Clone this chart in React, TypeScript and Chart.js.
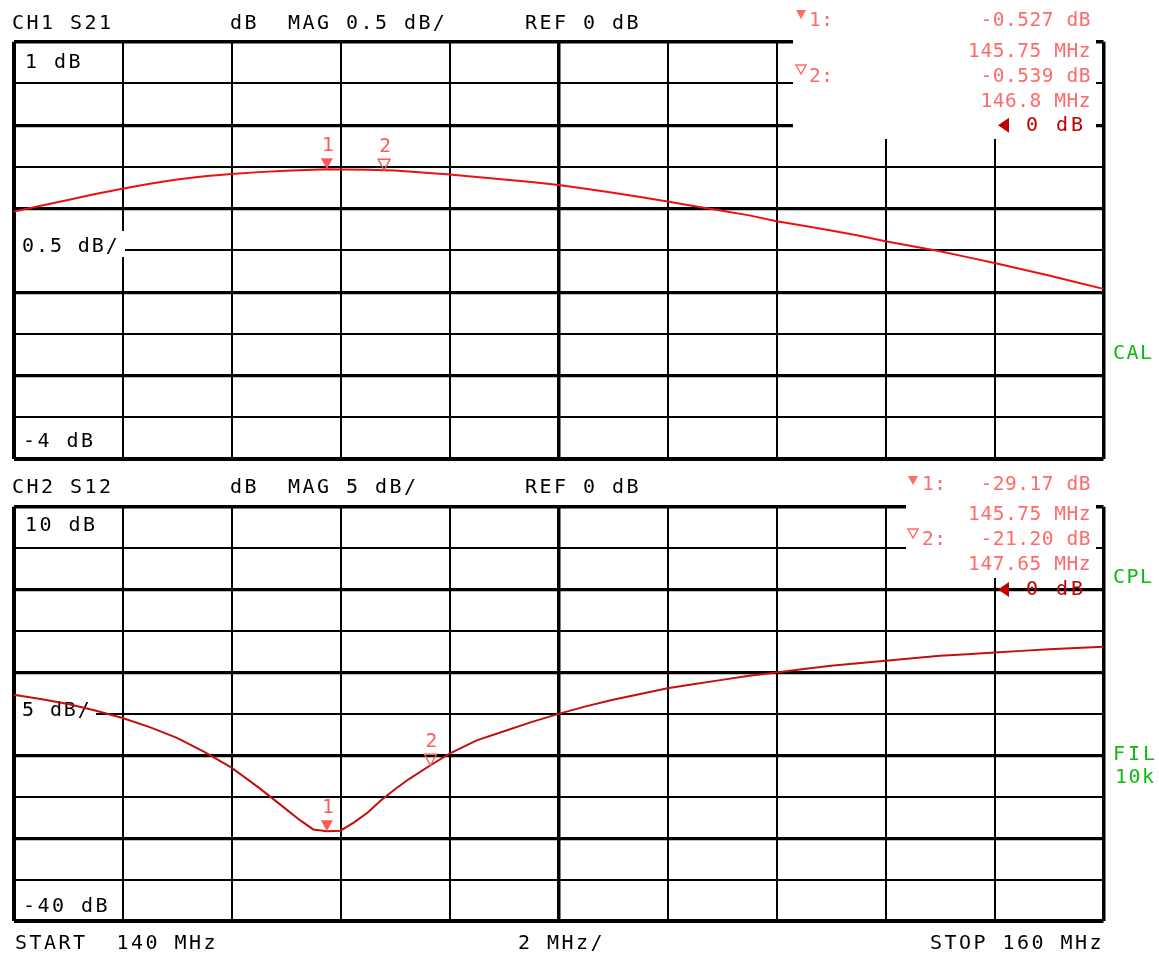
import { useEffect, useRef } from "react";
import { Chart, registerables } from "chart.js";

Chart.register(...registerables);

// ---------------- data ----------------
const FREQ_START_MHZ = 140;
const FREQ_STOP_MHZ = 160;
const FREQ_STEP_MHZ = 2;

const S21_FREQ = [
  140, 140.5, 141, 141.5, 142, 142.5, 143, 143.5, 144, 144.5, 145, 145.5, 145.75, 146, 146.5, 146.8,
  147, 147.5, 148, 148.5, 149, 149.5, 150, 150.5, 151, 151.5, 152, 152.5, 153, 153.5, 154, 154.5,
  155, 155.5, 156, 156.5, 157, 157.5, 158, 158.5, 159, 159.5, 160,
];
const S21_DB = [
  -1.035, -0.965, -0.895, -0.825, -0.76, -0.7, -0.65, -0.61, -0.585, -0.562, -0.545, -0.533, -0.527,
  -0.53, -0.534, -0.539, -0.543, -0.565, -0.59, -0.62, -0.65, -0.68, -0.715, -0.76, -0.81, -0.86,
  -0.915, -0.97, -1.025, -1.08, -1.15, -1.205, -1.26, -1.32, -1.39, -1.45, -1.51, -1.58, -1.65,
  -1.725, -1.8, -1.88, -1.96,
];
const S21_MARKER_FREQ = [145.75, 146.8];
const S21_MARKER_DB = [-0.527, -0.539];

const S12_FREQ = [
  140, 140.5, 141, 141.5, 142, 142.5, 143, 143.5, 144, 144.5, 145, 145.25, 145.5, 145.75, 146, 146.25,
  146.5, 146.75, 147, 147.25, 147.65, 148, 148.5, 149, 149.5, 150, 150.5, 151, 151.5, 152, 152.5, 153,
  153.5, 154, 154.5, 155, 155.5, 156, 156.5, 157, 157.5, 158, 158.5, 159, 159.5, 160,
];
const S12_DB = [
  -12.7, -13.2, -13.8, -14.6, -15.5, -16.6, -17.9, -19.6, -21.5, -23.9, -26.5, -27.8, -28.95, -29.17,
  -29.1, -28.1, -26.9, -25.4, -24.1, -22.9, -21.2, -19.8, -18.2, -17.1, -16.0, -15.0, -14.1, -13.3,
  -12.6, -11.9, -11.4, -10.9, -10.4, -10.0, -9.6, -9.2, -8.9, -8.6, -8.3, -8.0, -7.8, -7.6, -7.4,
  -7.2, -7.05, -6.9,
];
const S12_MARKER_FREQ = [145.75, 147.65];
const S12_MARKER_DB = [-29.17, -21.2];

// ---------------- layout / style ----------------
const W = 1159;
const H = 954;
const PLOT_LEFT = 13.5;
const PLOT_RIGHT = 1103.5;
const FONT = '"DejaVu Sans Mono", "Liberation Mono", monospace';
const BLACK = "#000";
const MARK = "#ff5a5a";
const READ = "#ff6a6a";
const REFC = "#c00000";
const GREEN = "#10bb10";

type Panel = {
  id: string;
  name: string;
  top: number;
  bottom: number;
  freq: number[];
  db: number[];
  mFreq: number[];
  mDb: number[];
  dec: number;
  yMin: number;
  yMax: number;
  yStep: number;
  refLevel: number;
  trace: string;
  headerY: number;
  topLabelY: number;
  midLabelY: number;
  midBox: [number, number, number, number];
  botLabelY: number;
  box: [number, number, number, number];
  triX: number;
  numX: number;
  triTip: [number, number];
  readY: [number, number, number, number];
  greens: { t: string; x: number; y: number; sp: number }[];
  footer: boolean;
};

const PANELS: Panel[] = [
  {
    id: "ch1",
    name: "CH1 S21",
    top: 41.7,
    bottom: 459.2,
    freq: S21_FREQ,
    db: S21_DB,
    mFreq: S21_MARKER_FREQ,
    mDb: S21_MARKER_DB,
    dec: 3,
    yMin: -4,
    yMax: 1,
    yStep: 0.5,
    refLevel: 0,
    trace: "#ee1010",
    headerY: 29.3,
    topLabelY: 68,
    midLabelY: 252,
    midBox: [16, 231, 109, 26],
    botLabelY: 447,
    box: [793, 35, 303, 104],
    triX: 801,
    numX: 809,
    triTip: [19, 74],
    readY: [26, 57, 82, 107],
    greens: [{ t: "CAL", x: 1113, y: 359, sp: 1.5 }],
    footer: false,
  },
  {
    id: "ch2",
    name: "CH2 S12",
    top: 506.7,
    bottom: 921,
    freq: S12_FREQ,
    db: S12_DB,
    mFreq: S12_MARKER_FREQ,
    mDb: S12_MARKER_DB,
    dec: 2,
    yMin: -40,
    yMax: 10,
    yStep: 5,
    refLevel: 0,
    trace: "#c01010",
    headerY: 493,
    topLabelY: 531,
    midLabelY: 716,
    midBox: [16, 697, 80, 23],
    botLabelY: 912,
    box: [906, 500, 190, 78],
    triX: 913,
    numX: 922,
    triTip: [485, 538],
    readY: [490, 520, 545, 570],
    greens: [
      { t: "CPL", x: 1113, y: 583, sp: 1.5 },
      { t: "FIL", x: 1113, y: 760, sp: 3 },
      { t: "10k", x: 1115, y: 783, sp: 1.5 },
    ],
    footer: true,
  },
];

function txt(
  ctx: CanvasRenderingContext2D,
  s: string,
  x: number,
  y: number,
  color: string,
  size = 20,
  spacing = 2.45,
  align: CanvasTextAlign = "left"
) {
  ctx.save();
  ctx.font = `${size}px ${FONT}`;
  ctx.fillStyle = color;
  ctx.textAlign = align;
  ctx.textBaseline = "alphabetic";
  (ctx as any).letterSpacing = `${spacing}px`;
  ctx.fillText(s, x, y);
  ctx.restore();
}

function tri(ctx: CanvasRenderingContext2D, x: number, tipY: number, hw: number, h: number, color: string, filled: boolean) {
  ctx.save();
  ctx.beginPath();
  ctx.moveTo(x, tipY);
  ctx.lineTo(x - hw, tipY - h);
  ctx.lineTo(x + hw, tipY - h);
  ctx.closePath();
  if (filled) {
    ctx.fillStyle = color;
    ctx.fill();
  } else {
    ctx.strokeStyle = color;
    ctx.lineWidth = 1.4;
    ctx.stroke();
  }
  ctx.restore();
}

function fmtNum(v: number) {
  return String(v);
}

function makeChart(canvas: HTMLCanvasElement, p: Panel) {
  const overlay = {
    id: "overlay-" + p.id,
    beforeDatasetsDraw(chart: any) {
      const ctx: CanvasRenderingContext2D = chart.ctx;
      txt(ctx, `${fmtNum(p.yMax)} dB`, 25, p.topLabelY, BLACK);
      ctx.save();
      ctx.fillStyle = "#fff";
      ctx.fillRect(p.midBox[0], p.midBox[1], p.midBox[2], p.midBox[3]);
      ctx.restore();
      txt(ctx, `${fmtNum(p.yStep)} dB/`, 22, p.midLabelY, BLACK, 20, 1.9);
      txt(ctx, `${fmtNum(p.yMin)} dB`, 23, p.botLabelY, BLACK);
    },
    afterDraw(chart: any) {
      const ctx: CanvasRenderingContext2D = chart.ctx;
      const xs = chart.scales.x;
      const ys = chart.scales.y;

      txt(ctx, p.name, 12, p.headerY, BLACK);
      txt(ctx, `dB  MAG ${fmtNum(p.yStep)} dB/`, 230, p.headerY, BLACK);
      txt(ctx, `REF ${fmtNum(p.refLevel)} dB`, 525, p.headerY, BLACK);

      ctx.save();
      ctx.fillStyle = "#fff";
      ctx.fillRect(p.box[0], p.box[1], p.box[2], p.box[3]);
      ctx.restore();

      p.mFreq.forEach((f, i) => {
        const x = xs.getPixelForValue(f);
        const y = ys.getPixelForValue(p.mDb[i]);
        tri(ctx, x, y, 6, 11, MARK, i === 0);
        txt(ctx, String(i + 1), x + 1, y - 18, MARK, 19.5, 0, "center");
      });

      p.mFreq.forEach((f, i) => {
        tri(ctx, p.triX, p.triTip[i], 5, 9, READ, i === 0);
        txt(ctx, `${i + 1}:`, p.numX, p.readY[i * 2], READ, 19.5, 0.6);
        txt(ctx, `${p.mDb[i].toFixed(p.dec)} dB`, 1091, p.readY[i * 2], READ, 19.5, 0.55, "right");
        txt(ctx, `${f} MHz`, 1091, p.readY[i * 2 + 1], READ, 19.5, 0.55, "right");
      });

      const ry = ys.getPixelForValue(p.refLevel);
      ctx.save();
      ctx.beginPath();
      ctx.moveTo(998, ry);
      ctx.lineTo(1009, ry - 7.5);
      ctx.lineTo(1009, ry + 7.5);
      ctx.closePath();
      ctx.fillStyle = REFC;
      ctx.fill();
      ctx.restore();
      txt(ctx, `${fmtNum(p.refLevel)} dB`, 1026, ry + 5.5, REFC, 20, 3);

      p.greens.forEach((g) => txt(ctx, g.t, g.x, g.y, GREEN, 20, g.sp));

      if (p.footer) {
        txt(ctx, `START  ${FREQ_START_MHZ} MHz`, 15, 949, BLACK);
        txt(ctx, `${FREQ_STEP_MHZ} MHz/`, 518, 949, BLACK);
        txt(ctx, `STOP ${FREQ_STOP_MHZ} MHz`, 930, 949, BLACK);
      }
    },
  };

  const xLine = (c: any) => (c.index === 0 ? 4 : c.index === 10 ? 3.5 : c.index === 5 ? 3.5 : 2);
  const yLine = (c: any) => (c.index === 0 ? 4 : c.index === 10 ? 3.5 : c.index % 2 === 0 ? 3.2 : 2);

  return new Chart(canvas, {
    type: "line",
    data: {
      datasets: [
        {
          data: p.freq.map((f, i) => ({ x: f, y: p.db[i] })),
          borderColor: p.trace,
          borderWidth: 2,
          pointRadius: 0,
          tension: 0,
          fill: false,
        },
      ],
    },
    options: {
      responsive: false,
      animation: false,
      events: [],
      layout: {
        padding: { left: PLOT_LEFT, right: W - PLOT_RIGHT, top: p.top, bottom: H - p.bottom },
      },
      plugins: { legend: { display: false }, tooltip: { enabled: false } },
      scales: {
        x: {
          type: "linear",
          min: FREQ_START_MHZ,
          max: FREQ_STOP_MHZ,
          ticks: { stepSize: FREQ_STEP_MHZ, display: false },
          grid: { color: BLACK, lineWidth: xLine, drawTicks: false },
          border: { display: false },
          afterFit: (s: any) => {
            s.height = 0;
          },
        },
        y: {
          type: "linear",
          min: p.yMin,
          max: p.yMax,
          ticks: { stepSize: p.yStep, display: false },
          grid: { color: BLACK, lineWidth: yLine, drawTicks: false },
          border: { display: false },
          afterFit: (s: any) => {
            s.width = 0;
          },
        },
      },
    } as any,
    plugins: [overlay],
  });
}

export default function App() {
  const r1 = useRef<HTMLCanvasElement>(null);
  const r2 = useRef<HTMLCanvasElement>(null);

  useEffect(() => {
    document.body.style.margin = "0";
    document.body.style.overflow = "hidden";
    const c1 = makeChart(r1.current!, PANELS[0]);
    const c2 = makeChart(r2.current!, PANELS[1]);
    return () => {
      c1.destroy();
      c2.destroy();
    };
  }, []);

  const cs: React.CSSProperties = { position: "absolute", left: 0, top: 0, width: W, height: H };
  return (
    <div style={{ position: "relative", width: W, height: H, background: "#fff", overflow: "hidden" }}>
      <canvas ref={r1} width={W} height={H} style={cs} />
      <canvas ref={r2} width={W} height={H} style={cs} />
    </div>
  );
}
